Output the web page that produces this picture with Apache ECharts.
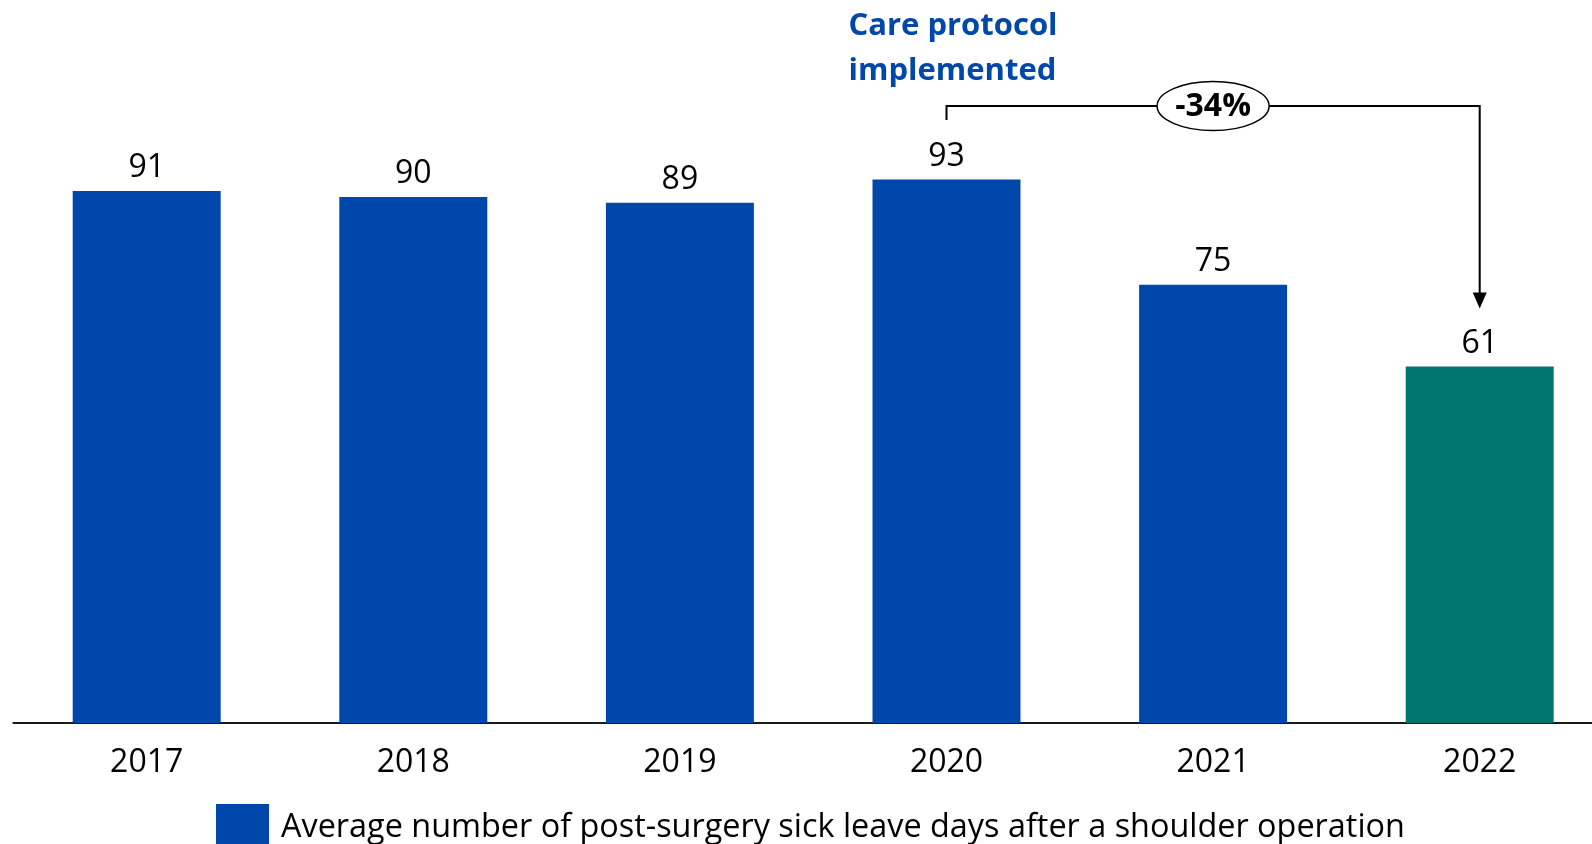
<!DOCTYPE html>
<html>
<head>
<meta charset="utf-8">
<script src="https://cdn.jsdelivr.net/npm/echarts@6/dist/echarts.min.js"></script>
<style>
  html, body { margin: 0; padding: 0; background: #fff; }
  #chart { width: 1592px; height: 844px; }
</style>
</head>
<body>
<div id="chart"></div>
<script>
// Yearly averages of sick leave days after shoulder surgery
const years = ['2017', '2018', '2019', '2020', '2021', '2022'];
const sickLeaveDays = [91, 90, 89, 93, 75, 61];
const seriesName = 'Average number of post-surgery sick leave days after a shoulder operation';
const protocolNote = 'Care protocol\nimplemented';
// Comparison bracket: from the year the protocol was introduced to the latest year
const compareFrom = 3;
const compareTo = 5;

const BLUE = '#0047AB';
const TEAL = '#00766E';
const FONT = '"Open Sans", "Noto Sans", sans-serif';

const changePct = Math.round((sickLeaveDays[compareTo] - sickLeaveDays[compareFrom]) / sickLeaveDays[compareFrom] * 100);
const changeLabel = (changePct > 0 ? '+' : '') + changePct + '%';

const chart = echarts.init(document.getElementById('chart'), null, { renderer: 'canvas' });

chart.setOption({
  animation: false,
  backgroundColor: '#fff',
  textStyle: { fontFamily: FONT },
  // the last band runs past the right edge of the canvas
  grid: { left: 13.4, right: -21, top: 138.5, bottom: 121, containLabel: false, outerBoundsMode: 'none' },
  xAxis: {
    type: 'category',
    data: years,
    axisLine: { show: true, lineStyle: { color: '#1a1a1a', width: 2 } },
    axisTick: { show: false },
    axisLabel: { color: '#000', fontSize: 32, fontFamily: FONT, margin: 24 }
  },
  yAxis: {
    type: 'value',
    min: 0,
    max: 100,
    show: false,
    splitLine: { show: false }
  },
  legend: {
    data: [seriesName],
    left: 211,
    top: 799,
    icon: 'rect',
    itemWidth: 53,
    itemHeight: 40,
    formatter: '{t|{name}}',
    textStyle: {
      color: '#000',
      fontSize: 32.4,
      fontFamily: FONT,
      rich: {
        t: { color: '#000', fontSize: 32.4, fontFamily: FONT, padding: [8, 0, 0, 7] }
      }
    },
    selectedMode: false
  },
  series: [
    {
      name: seriesName,
      type: 'bar',
      barWidth: '55.5%',
      itemStyle: { color: BLUE },
      label: {
        show: true,
        position: 'top',
        distance: 7,
        color: '#000',
        fontSize: 32,
        fontFamily: FONT
      },
      data: sickLeaveDays.map((v, i) => i === sickLeaveDays.length - 1
        ? { value: v, itemStyle: { color: TEAL } }
        : v)
    },
    {
      // bracket with the percentage change and the protocol note
      type: 'custom',
      coordinateSystem: 'cartesian2d',
      silent: true,
      clip: false,
      z: 10,
      data: [[compareFrom, compareTo]],
      renderItem: function (params, api) {
        const i0 = api.value(0);
        const i1 = api.value(1);
        const x1 = api.coord([i0, 0])[0];
        const x2 = api.coord([i1, 0])[0];
        const yLine = 106;
        const yStub = 120;
        const yTip = api.coord([i1, sickLeaveDays[i1]])[1] - 58;
        const midX = (x1 + x2) / 2;
        return {
          type: 'group',
          children: [
            {
              type: 'polyline',
              shape: { points: [[x1, yStub], [x1, yLine], [x2, yLine], [x2, yTip - 14]] },
              style: { stroke: '#000', lineWidth: 2, fill: null }
            },
            {
              type: 'polygon',
              shape: { points: [[x2 - 7, yTip - 16], [x2 + 7, yTip - 16], [x2, yTip]] },
              style: { fill: '#000' }
            },
            {
              type: 'ellipse',
              shape: { cx: midX, cy: yLine, rx: 56, ry: 24.5 },
              style: { fill: '#fff', stroke: '#000', lineWidth: 1.5 }
            },
            {
              type: 'text',
              x: midX,
              y: yLine + 1,
              style: {
                text: changeLabel,
                fill: '#000',
                font: 'bold 32px ' + FONT,
                align: 'center',
                verticalAlign: 'middle'
              }
            },
            {
              type: 'text',
              x: x1 - 98,
              y: 4,
              style: {
                text: protocolNote,
                fill: BLUE,
                font: 'bold 31px ' + FONT,
                lineHeight: 45,
                align: 'left',
                verticalAlign: 'top'
              }
            }
          ]
        };
      }
    }
  ]
});
</script>
</body>
</html>
